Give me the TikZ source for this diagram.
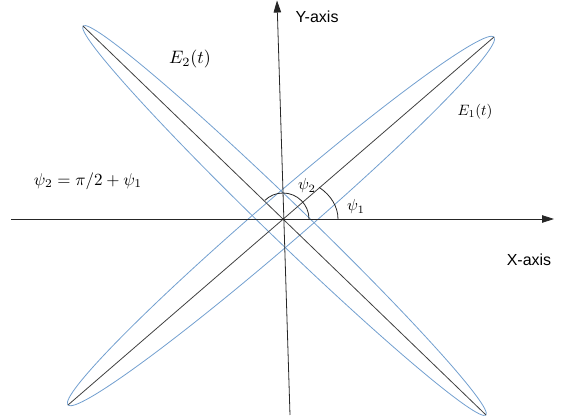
\documentclass[tikz,border=0pt]{standalone}
\usepackage{fontspec}
\setsansfont{Liberation Sans}
\usepackage{tikz}
\usetikzlibrary{arrows.meta, calc}
\definecolor{ellblue}{HTML}{729FCF}
\tikzset{
	axis/.style={draw=black!85, line width=0.8pt},
	arr/.style={-{Triangle[length=12pt, width=7.5pt]}},
	ell/.style={draw=ellblue, line width=0.8pt},
	pol/.style={draw=black!75, line width=0.8pt},
	lbl/.style={font=\sffamily\fontsize{16}{19}\selectfont, inner sep=0pt},
	mlbl/.style={inner sep=0pt}
}

\begin{document}
\begin{tikzpicture}[x=1pt, y=1pt]
	\useasboundingbox (0,0) rectangle (563,420);
	\coordinate (O) at (283,201);
	\coordinate (xl) at (11,201);
	\coordinate (xr) at (554,201);
	\coordinate (yb) at (290,5);
	\coordinate (yt) at (277,419.5);
	\coordinate (e1a) at (68,15);
	\coordinate (e1b) at (494,383);
	\coordinate (e2a) at (83,394);
	\coordinate (e2b) at (486,5);
	\coordinate (c1) at ($(e1a)!0.5!(e1b)$);
	\coordinate (c2) at ($(e2a)!0.5!(e2b)$);

	\draw[ell, rotate=40.8] (c1) ellipse [x radius=281.5, y radius=23];
	\draw[ell, rotate=-44] (c2) ellipse [x radius=280, y radius=19];
	\draw[pol] (e1a) -- (e1b);
	\draw[pol] (e2a) -- (e2b);

	\draw[axis, arr] (xl) -- (xr);
	\draw[axis, arr] (yb) -- (yt);
	\draw[axis] ([shift={(55,0)}]O) arc[start angle=0, end angle=49, x radius=55, y radius=42];
	\draw[axis] ([shift={(26,0)}]O) arc[start angle=0, end angle=134, radius=26];

	\node[lbl] (ylab) at (317,403) {Y-axis};
	\node[lbl] (xlab) at (529,160) {X-axis};
	\node[mlbl, scale=1.8] (e2lab) at (190,361) {$E_2(t)$};
	\node[mlbl, scale=1.5] (e1lab) at (475,308) {$E_1(t)$};
	\node[mlbl, scale=1.6] (psi2) at (307,234) {$\psi_2$};
	\node[mlbl, scale=1.6] (psi1) at (356,213) {$\psi_1$};
	\node[mlbl, scale=1.7] (rel) at (88,239) {$\psi_2=\pi/2+\psi_1$};
\end{tikzpicture}
\end{document}
